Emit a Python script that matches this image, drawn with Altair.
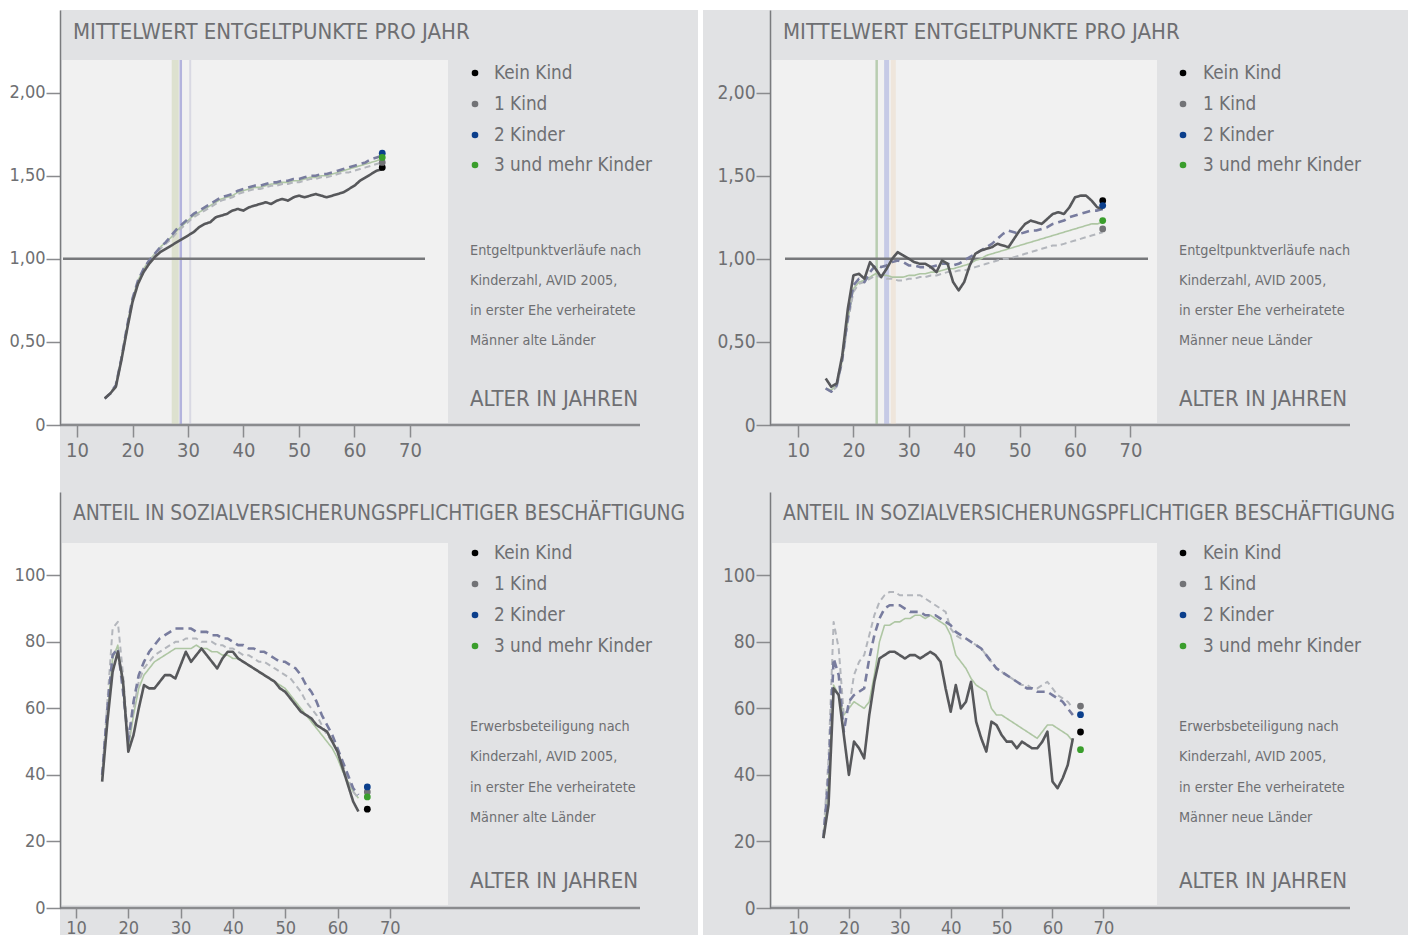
import altair as alt
import pandas as pd

# ---------------- data ----------------
SERIES = ["Kein Kind", "1 Kind", "2 Kinder", "3 und mehr Kinder"]
DOT_COLORS = ["#000000", "#727376", "#0b3f8c", "#3a9e2c"]
LINE_COLORS = ["#57585b", "#b3b6bc", "#787c9e", "#aec6a3"]
LINE_DASH = [[1, 0], [6, 4], [8, 5], [1, 0]]
LINE_WIDTH = [2.6, 2.0, 2.6, 1.6]
DRAW_ORDER = [3, 1, 2, 0]

TITLE_EP = "MITTELWERT ENTGELTPUNKTE PRO JAHR"
TITLE_PCT = "ANTEIL IN SOZIALVERSICHERUNGSPFLICHTIGER BESCHÄFTIGUNG"
X_LABEL = "ALTER IN JAHREN"
NOTES_TL = ["Entgeltpunktverläufe nach", "Kinderzahl, AVID 2005,", "in erster Ehe verheiratete", "Männer alte Länder"]
NOTES_TR = ["Entgeltpunktverläufe nach", "Kinderzahl, AVID 2005,", "in erster Ehe verheiratete", "Männer neue Länder"]
NOTES_BL = ["Erwerbsbeteiligung nach", "Kinderzahl, AVID 2005,", "in erster Ehe verheiratete", "Männer alte Länder"]
NOTES_BR = ["Erwerbsbeteiligung nach", "Kinderzahl, AVID 2005,", "in erster Ehe verheiratete", "Männer neue Länder"]

X_TICKS = [10, 20, 30, 40, 50, 60, 70]
Y_TICKS_EP = [0, 0.5, 1.0, 1.5, 2.0]
Y_TICKS_PCT = [0, 20, 40, 60, 80, 100]
FIRST_AGE = 15
REF_VALUE = 1.0

# Entgeltpunkte, alte Länder (ages 15..65)
EP_W_KEIN = [0.16, 0.19, 0.23, 0.39, 0.57, 0.74, 0.85, 0.92, 0.97, 1.01, 1.04, 1.06, 1.08, 1.10, 1.12,
             1.14, 1.16, 1.19, 1.21, 1.22, 1.25, 1.26, 1.27, 1.29, 1.30, 1.29, 1.31, 1.32, 1.33, 1.34,
             1.33, 1.35, 1.36, 1.35, 1.37, 1.38, 1.37, 1.38, 1.39, 1.38, 1.37, 1.38, 1.39, 1.40, 1.42,
             1.44, 1.47, 1.49, 1.51, 1.53, 1.54]
EP_W_1 = [0.16, 0.19, 0.24, 0.40, 0.58, 0.75, 0.86, 0.93, 0.98, 1.02, 1.06, 1.09, 1.12, 1.16, 1.19,
          1.22, 1.25, 1.27, 1.29, 1.31, 1.33, 1.35, 1.36, 1.37, 1.39, 1.40, 1.41, 1.42, 1.42, 1.43,
          1.44, 1.44, 1.45, 1.45, 1.46, 1.46, 1.47, 1.48, 1.48, 1.49, 1.49, 1.50, 1.51, 1.52, 1.52,
          1.53, 1.54, 1.55, 1.56, 1.57, 1.58]
EP_W_2 = [0.16, 0.19, 0.24, 0.40, 0.59, 0.76, 0.87, 0.94, 0.99, 1.03, 1.07, 1.10, 1.14, 1.18, 1.21,
          1.24, 1.27, 1.29, 1.31, 1.33, 1.35, 1.37, 1.38, 1.39, 1.41, 1.42, 1.43, 1.44, 1.44, 1.45,
          1.46, 1.46, 1.47, 1.47, 1.48, 1.48, 1.49, 1.50, 1.50, 1.51, 1.51, 1.52, 1.53, 1.54, 1.55,
          1.56, 1.57, 1.58, 1.60, 1.61, 1.62]
EP_W_3 = [0.16, 0.19, 0.24, 0.40, 0.59, 0.76, 0.87, 0.94, 0.99, 1.03, 1.07, 1.10, 1.13, 1.17, 1.20,
          1.23, 1.26, 1.28, 1.30, 1.32, 1.34, 1.36, 1.37, 1.38, 1.40, 1.41, 1.42, 1.43, 1.43, 1.44,
          1.45, 1.45, 1.46, 1.46, 1.47, 1.47, 1.48, 1.49, 1.49, 1.50, 1.50, 1.51, 1.52, 1.53, 1.54,
          1.55, 1.56, 1.57, 1.58, 1.59, 1.60]
EP_W_END = [1.55, 1.58, 1.635, 1.61]
EP_W_MARKERS = [27.7, 28.7, 30.4]

# Entgeltpunkte, neue Länder (ages 15..65)
EP_E_KEIN = [0.28, 0.23, 0.25, 0.42, 0.70, 0.90, 0.91, 0.88, 0.98, 0.94, 0.89, 0.94, 1.00, 1.04, 1.02,
             1.00, 0.98, 0.97, 0.97, 0.95, 0.92, 0.99, 0.97, 0.86, 0.81, 0.86, 0.96, 1.03, 1.05, 1.06,
             1.07, 1.09, 1.08, 1.07, 1.12, 1.17, 1.21, 1.23, 1.22, 1.21, 1.24, 1.27, 1.28, 1.27, 1.31,
             1.37, 1.38, 1.38, 1.35, 1.31, 1.30]
EP_E_1 = [0.22, 0.20, 0.23, 0.38, 0.62, 0.80, 0.85, 0.86, 0.88, 0.90, 0.89, 0.88, 0.88, 0.87, 0.87,
          0.88, 0.88, 0.89, 0.89, 0.90, 0.90, 0.91, 0.92, 0.92, 0.93, 0.93, 0.94, 0.95, 0.96, 0.97,
          0.98, 0.99, 1.00, 1.00, 1.01, 1.02, 1.03, 1.04, 1.05, 1.06, 1.07, 1.08, 1.08, 1.09, 1.10,
          1.11, 1.12, 1.13, 1.14, 1.15, 1.16]
EP_E_2 = [0.22, 0.20, 0.24, 0.40, 0.65, 0.84, 0.88, 0.86, 0.92, 0.96, 0.95, 0.96, 0.98, 0.99, 0.98,
          0.96, 0.96, 0.95, 0.95, 0.95, 0.96, 0.97, 0.97, 0.96, 0.97, 0.99, 1.01, 1.03, 1.05, 1.07,
          1.09, 1.12, 1.15, 1.17, 1.16, 1.15, 1.16, 1.17, 1.17, 1.18, 1.19, 1.21, 1.22, 1.23, 1.25,
          1.26, 1.27, 1.28, 1.29, 1.29, 1.30]
EP_E_3 = [0.22, 0.21, 0.24, 0.39, 0.63, 0.82, 0.86, 0.87, 0.89, 0.91, 0.90, 0.90, 0.89, 0.89, 0.89,
          0.90, 0.90, 0.91, 0.91, 0.92, 0.92, 0.93, 0.94, 0.94, 0.95, 0.96, 0.97, 0.99, 1.00, 1.02,
          1.03, 1.04, 1.05, 1.06, 1.07, 1.08, 1.09, 1.10, 1.11, 1.12, 1.13, 1.14, 1.15, 1.16, 1.17,
          1.18, 1.19, 1.20, 1.21, 1.21, 1.22]
EP_E_END = [1.35, 1.18, 1.32, 1.23]
EP_E_MARKERS = [24.2, 26.0, 27.2]

# Erwerbsbeteiligung (%), alte Länder (ages 15..64)
PCT_W_KEIN = [38, 56, 71, 77, 68, 47, 52, 60, 67, 66, 66, 68, 70, 70, 69, 73, 77, 74, 76, 78,
              76, 74, 72, 75, 77, 77, 75, 74, 73, 72, 71, 70, 69, 68, 66, 65, 63, 61, 59, 58,
              57, 55, 54, 53, 50, 47, 42, 37, 32, 29]
PCT_W_1 = [40, 62, 84, 86, 70, 50, 60, 68, 72, 74, 76, 77, 78, 79, 80, 80, 81, 81, 81, 80,
           80, 80, 79, 79, 78, 78, 77, 76, 76, 75, 74, 74, 73, 72, 71, 70, 69, 67, 65, 62,
           60, 58, 55, 52, 50, 47, 43, 39, 35, 33]
PCT_W_2 = [40, 60, 76, 78, 65, 50, 62, 70, 74, 77, 79, 81, 82, 83, 84, 84, 84, 84, 83, 83,
           83, 82, 82, 81, 81, 80, 79, 79, 78, 78, 77, 77, 76, 75, 74, 74, 73, 72, 70, 67,
           65, 62, 58, 55, 52, 48, 44, 40, 36, 34]
PCT_W_3 = [39, 58, 75, 79, 66, 48, 58, 66, 70, 72, 74, 75, 76, 77, 78, 78, 78, 78, 79, 78,
           78, 77, 77, 76, 76, 75, 75, 74, 73, 72, 71, 70, 69, 68, 67, 66, 64, 62, 60, 58,
           56, 54, 52, 50, 48, 45, 41, 38, 35, 33]
PCT_W_END = [29.7, 34.9, 36.4, 33.4]

# Erwerbsbeteiligung (%), neue Länder (ages 15..64)
PCT_E_KEIN = [21, 31, 66, 64, 52, 40, 50, 48, 45, 58, 68, 75, 76, 77, 77, 76, 75, 76, 76, 75,
              76, 77, 76, 74, 66, 59, 67, 60, 62, 68, 56, 51, 47, 56, 55, 52, 50, 50, 48, 50,
              49, 48, 48, 50, 53, 38, 36, 39, 43, 51]
PCT_E_1 = [22, 45, 86, 78, 58, 60, 70, 74, 76, 82, 88, 92, 94, 95, 95, 94, 94, 94, 94, 94,
           93, 92, 91, 90, 89, 84, 82, 81, 81, 80, 79, 78, 76, 74, 72, 71, 70, 69, 68, 67,
           67, 66, 66, 67, 68, 66, 64, 63, 62, 60]
PCT_E_2 = [21, 40, 75, 70, 53, 62, 64, 65, 66, 75, 82, 87, 90, 91, 91, 91, 90, 89, 89, 89,
           88, 88, 88, 87, 86, 85, 83, 82, 81, 80, 79, 78, 76, 74, 72, 71, 70, 69, 68, 67,
           66, 66, 65, 65, 65, 64, 63, 62, 60, 58]
PCT_E_3 = [21, 38, 67, 64, 58, 60, 62, 61, 60, 62, 70, 80, 85, 85, 86, 86, 87, 87, 88, 88,
           87, 88, 87, 86, 85, 82, 76, 74, 72, 69, 67, 66, 65, 60, 58, 58, 57, 56, 55, 54,
           53, 52, 51, 53, 55, 55, 54, 53, 52, 50]
PCT_E_END = [52.9, 60.7, 58.1, 47.6]

# ---------------- style ----------------
FONT = "DejaVu Sans Condensed, Liberation Sans, sans-serif"
GRAY = "#e1e2e4"
LIGHT = "#f1f1f1"
TXT = "#6e6f72"
AXC = "#8a8b8e"

MARKER_STYLE_W = [("#dde1cf", 7), ("#b3b3dd", 2.5), ("#d9d9e3", 2)]
MARKER_STYLE_E = [("#b9cdb1", 2.5), ("#c6cae6", 5), ("#efe6dc", 5)]

ONE = [{}]


def build_panel(p):
    L, T, R, B = p["left"], p["top"], p["right"], p["axis_y"]
    W, H = R - L, B - T
    xs = alt.Scale(domain=[10 - (p["x10"] - L) / p["sx"], 10 + (R - p["x10"]) / p["sx"]],
                   nice=False, zero=False)
    ys = alt.Scale(domain=[0, H / p["sy"]], nice=False, zero=False)
    if p["pct"]:
        ylabel = "format(datum.value, 'd')"
        yticks = Y_TICKS_PCT
    else:
        ylabel = "datum.value == 0 ? '0' : replace(format(datum.value, '.2f'), '.', ',')"
        yticks = Y_TICKS_EP
    xaxis = alt.Axis(values=X_TICKS, format="d", title=None, domain=False, grid=False,
                     tickSize=p["xtick"][0], tickColor=AXC, tickWidth=1.5, labelFont=FONT,
                     labelFontSize=p["xtick"][2], labelColor=TXT, labelPadding=p["xtick"][1], zindex=1,
                     labelFlush=False, labelOverlap=False)
    yaxis = alt.Axis(values=yticks, labelExpr=ylabel, title=None, domain=True, domainColor="#7a7b7e",
                     domainWidth=1.5, grid=False, tickSize=14, tickColor=AXC, tickWidth=1.5,
                     labelFont=FONT, labelFontSize=p["ylab"], labelColor=TXT, labelPadding=1, zindex=1,
                     labelFlush=False, labelOverlap=False)

    def X(field):
        return alt.X(field, scale=xs, axis=xaxis)

    def Y(field):
        return alt.Y(field, scale=ys, axis=yaxis)

    def rect(x0, x1, y0, y1, col):
        return alt.Chart(alt.Data(values=ONE)).mark_rect(color=col).encode(
            x=alt.value(x0), x2=alt.value(x1), y=alt.value(y0), y2=alt.value(y1))

    layers = []
    full_h = p["bottom"] - T
    # surroundings outside the axis frame
    if p["left_white"]:
        layers.append(rect(-(L - p["outer_left"]), 0, 0, full_h, "white"))
        layers.append(rect(0, W, H, full_h, GRAY))
    else:
        layers.append(rect(-(L - p["outer_left"]), 0, 0, full_h, GRAY))
        layers.append(rect(-(L - p["outer_left"]), W, H, full_h, GRAY))
    lx0, lx1, ly0, ly1 = p["light"]
    layers.append(rect(lx0 - L, lx1 - L, ly0 - T, ly1 - T, LIGHT))

    for age, (col, w) in zip(p.get("markers", []), p.get("marker_style", [])):
        layers.append(alt.Chart(pd.DataFrame({"age": [age]})).mark_rule(color=col, strokeWidth=w).encode(
            x=X("age:Q"), y=alt.value(ly0 - T), y2=alt.value(H)))

    if "ref" in p:
        layers.append(alt.Chart(pd.DataFrame({"value": [REF_VALUE]})).mark_rule(color="#77787b", strokeWidth=2.6).encode(
            y=Y("value:Q"), x=alt.value(p["ref"][0] - L), x2=alt.value(p["ref"][1] - L)))

    for i in DRAW_ORDER:
        vals = p["series"][i]
        df = pd.DataFrame({"age": list(range(FIRST_AGE, FIRST_AGE + len(vals))), "value": vals})
        layers.append(alt.Chart(df).mark_line(color=LINE_COLORS[i], strokeDash=LINE_DASH[i],
                                              strokeWidth=LINE_WIDTH[i], strokeJoin="round").encode(
            x=X("age:Q"), y=Y("value:Q")))

    end_df = pd.DataFrame({"series": SERIES, "value": p["end"], "age": [p["end_age"]] * 4})
    layers.append(alt.Chart(end_df).mark_circle(size=46, opacity=1).encode(
        x=X("age:Q"), y=Y("value:Q"),
        color=alt.Color("series:N", scale=alt.Scale(domain=SERIES, range=DOT_COLORS), legend=None)))

    # x axis line
    layers.append(alt.Chart(alt.Data(values=ONE)).mark_rule(color=AXC, strokeWidth=2.5).encode(
        y=alt.value(H), x=alt.value(0), x2=alt.value(p["x_end"] - L)))

    def text(t, x, y, size):
        return alt.Chart(alt.Data(values=ONE)).mark_text(
            align="left", baseline="middle", font=FONT, fontSize=size, color=TXT).encode(
            x=alt.value(x - L), y=alt.value(y - T), text=alt.value(t))

    layers.append(text(p["title"], p["title_x"], p["title_y"], p["title_size"]))
    for name, col, ly in zip(SERIES, DOT_COLORS, p["legend_y"]):
        layers.append(alt.Chart(alt.Data(values=ONE)).mark_circle(size=44, opacity=1, color=col).encode(
            x=alt.value(p["legend_dot_x"] - L), y=alt.value(ly - T)))
        layers.append(text(name, p["legend_text_x"], ly, 18.8))
    for line, ny in zip(p["notes"], p["note_y"]):
        layers.append(text(line, p["note_x"], ny, 14.3))
    layers.append(text(X_LABEL, p["note_x"], p["xlabel_y"], 22))

    return alt.layer(*layers).properties(width=W, height=H)


TOP_LEG = [73, 104, 135, 165]
BOT_LEG = [553, 584, 615, 646]
TOP_NOTE = [251, 281, 311, 341]
BOT_NOTE = [727, 757, 788, 818]

TL = dict(left=60, top=10, right=698, axis_y=425, bottom=492, outer_left=8, x10=77, sx=5.55, sy=166.2,
          pct=False, left_white=True, light=(62, 448, 60, 423), x_end=640, title=TITLE_EP, title_size=22,
          title_x=73, title_y=32, legend_dot_x=475, legend_text_x=494, legend_y=TOP_LEG, notes=NOTES_TL,
          note_x=470, note_y=TOP_NOTE, xlabel_y=399, ref=(63, 425), markers=EP_W_MARKERS,
          marker_style=MARKER_STYLE_W, series=[EP_W_KEIN, EP_W_1, EP_W_2, EP_W_3], end=EP_W_END, end_age=65,
          xtick=(12, 3, 20), ylab=18)
TR = dict(left=770, top=10, right=1408, axis_y=425, bottom=492, outer_left=703, x10=798, sx=5.54, sy=166.2,
          pct=False, left_white=False, light=(772, 1157, 60, 423), x_end=1350, title=TITLE_EP, title_size=22,
          title_x=783, title_y=32, legend_dot_x=1183, legend_text_x=1203, legend_y=TOP_LEG, notes=NOTES_TR,
          note_x=1179, note_y=TOP_NOTE, xlabel_y=399, ref=(785, 1148), markers=EP_E_MARKERS,
          marker_style=MARKER_STYLE_E, series=[EP_E_KEIN, EP_E_1, EP_E_2, EP_E_3], end=EP_E_END, end_age=65,
          xtick=(12, 3, 20), ylab=19)
BL = dict(left=60, top=492, right=698, axis_y=908, bottom=935, outer_left=8, x10=76, sx=5.23, sy=3.327,
          pct=True, left_white=True, light=(62, 448, 543, 905), x_end=640, title=TITLE_PCT, title_size=20.8,
          title_x=73, title_y=514, legend_dot_x=475, legend_text_x=494, legend_y=BOT_LEG, notes=NOTES_BL,
          note_x=470, note_y=BOT_NOTE, xlabel_y=881,
          series=[PCT_W_KEIN, PCT_W_1, PCT_W_2, PCT_W_3], end=PCT_W_END, end_age=65.7,
          xtick=(10, 1, 18), ylab=18)
BR = dict(left=770, top=492, right=1408, axis_y=908, bottom=935, outer_left=703, x10=798, sx=5.09, sy=3.327,
          pct=True, left_white=False, light=(772, 1157, 543, 905), x_end=1350, title=TITLE_PCT, title_size=20.8,
          title_x=783, title_y=514, legend_dot_x=1183, legend_text_x=1203, legend_y=BOT_LEG, notes=NOTES_BR,
          note_x=1179, note_y=BOT_NOTE, xlabel_y=881,
          series=[PCT_E_KEIN, PCT_E_1, PCT_E_2, PCT_E_3], end=PCT_E_END, end_age=65.5,
          xtick=(10, 1, 18), ylab=19)

left = alt.vconcat(build_panel(TL), build_panel(BL), spacing=0)
right = alt.vconcat(build_panel(TR), build_panel(BR), spacing=0)
chart = alt.hconcat(left, right, spacing=5).properties(
    padding={"left": 0, "top": 2, "right": 0, "bottom": 0},
    background="white",
).configure_view(fill=GRAY, strokeWidth=0)

chart.save("out.html", embed_options={"renderer": "svg", "actions": False})
